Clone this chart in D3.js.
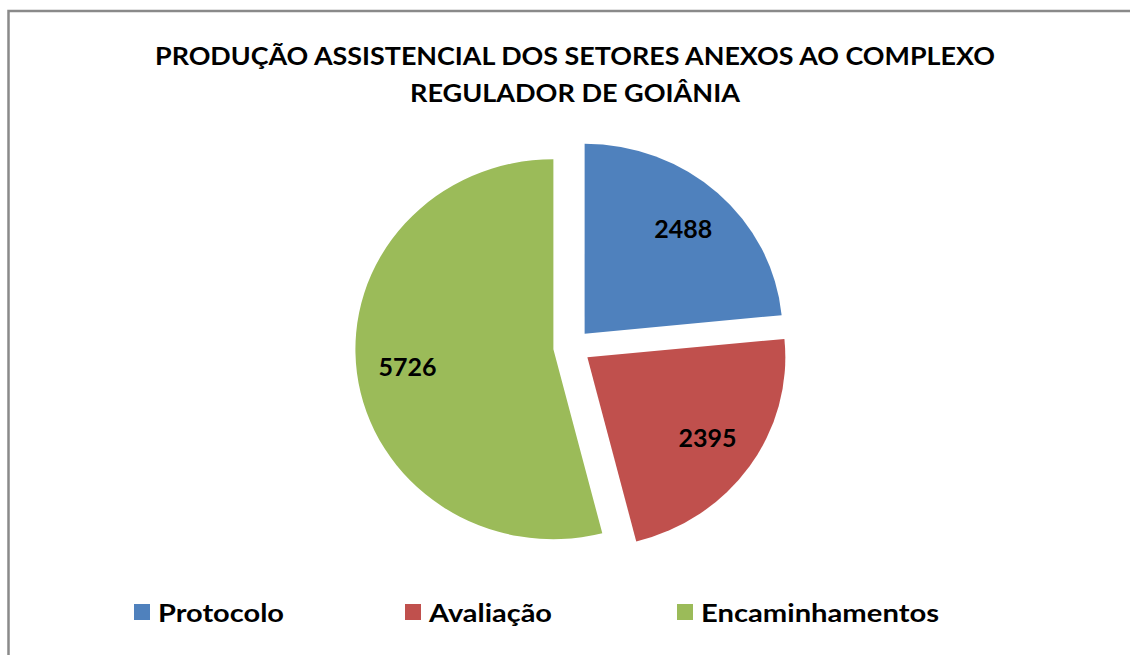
<!DOCTYPE html>
<html>
<head>
<meta charset="utf-8">
<script src="https://cdn.jsdelivr.net/npm/d3@7"></script>
<style>
  body { margin: 0; background: #fff; }
  svg { display: block; }
</style>
</head>
<body>
<div id="chart"></div>
<script>
// Chart data
var categories = ["Protocolo", "Avaliação", "Encaminhamentos"];
var values = [2488, 2395, 5726];
var colors = ["#4F81BD", "#C0504D", "#9BBB59"];
var titleLines = ["PRODUÇÃO ASSISTENCIAL DOS SETORES ANEXOS AO COMPLEXO", "REGULADOR DE GOIÂNIA"];

var width = 1130, height = 655;
var font = "Lato, 'Open Sans', sans-serif";

var svg = d3.select("#chart").append("svg")
  .attr("width", width)
  .attr("height", height);

// Chart border (only top and left show in the frame)
svg.append("rect")
  .attr("x", 8.5).attr("y", 11)
  .attr("width", width + 20).attr("height", height + 20)
  .attr("fill", "#fff")
  .attr("stroke", "#8a8a8a")
  .attr("stroke-width", 2.5);

// Title
var titleWidths = [840, 330];
svg.selectAll(".title")
  .data(titleLines)
  .enter()
  .append("text")
  .attr("class", "title")
  .attr("x", function (d, i) { return i === 0 ? 155 : 410; })
  .attr("y", function (d, i) { return 65 + i * 37; })
  .attr("textLength", function (d, i) { return titleWidths[i]; })
  .attr("lengthAdjust", "spacingAndGlyphs")
  .style("font", "bold 24px " + font)
  .attr("fill", "#000")
  .text(function (d) { return d; });

// Pie
var cx = 572, cy = 347, radius = 190, sx = 1.042, explode = 18;

var pie = d3.pie().sort(null).value(function (d) { return d; });
var arcs = pie(values);

var arc = d3.arc().innerRadius(0).outerRadius(radius);
var labelArc = d3.arc().innerRadius(141).outerRadius(141);

function offset(d) {
  var mid = (d.startAngle + d.endAngle) / 2;
  return [explode * Math.sin(mid), -explode * Math.cos(mid)];
}

var pieG = svg.append("g")
  .attr("transform", "translate(" + cx + "," + cy + ") scale(" + sx + ",1)");

pieG.selectAll("path")
  .data(arcs)
  .enter()
  .append("path")
  .attr("transform", function (d) {
    var o = offset(d);
    return "translate(" + o[0] + "," + o[1] + ")";
  })
  .attr("d", arc)
  .attr("fill", function (d, i) { return colors[i]; });

// Value labels
svg.selectAll(".value")
  .data(arcs)
  .enter()
  .append("text")
  .attr("class", "value")
  .attr("x", function (d) {
    return cx + sx * (offset(d)[0] + labelArc.centroid(d)[0]);
  })
  .attr("y", function (d) {
    return cy + offset(d)[1] + labelArc.centroid(d)[1];
  })
  .attr("dy", "0.35em")
  .attr("text-anchor", "middle")
  .style("font", "bold 25px " + font)
  .attr("fill", "#000")
  .text(function (d) { return d.value; });

// Legend
var legendX = [134, 405, 677];
var legendW = [126, 123, 238];
var legend = svg.selectAll(".legend")
  .data(categories)
  .enter()
  .append("g")
  .attr("class", "legend")
  .attr("transform", function (d, i) { return "translate(" + legendX[i] + ",604)"; });

legend.append("rect")
  .attr("width", 16)
  .attr("height", 16)
  .attr("fill", function (d, i) { return colors[i]; });

legend.append("text")
  .attr("x", 24)
  .attr("y", 18)
  .attr("textLength", function (d, i) { return legendW[i]; })
  .attr("lengthAdjust", "spacingAndGlyphs")
  .style("font", "bold 25px " + font)
  .attr("fill", "#000")
  .text(function (d) { return d; });
</script>
</body>
</html>
